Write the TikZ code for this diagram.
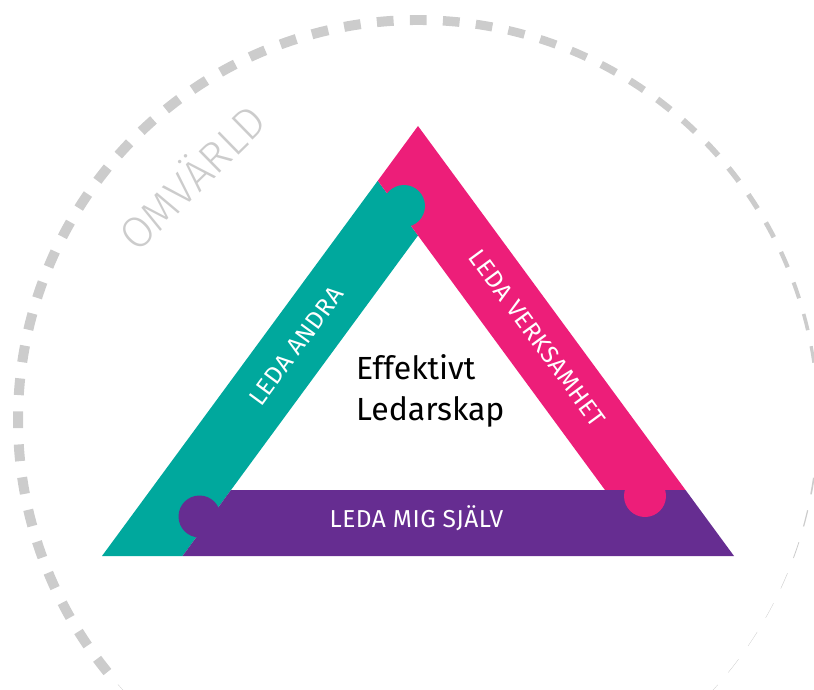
\documentclass[tikz,border=0pt]{standalone}
\usepackage{fontspec}
\setmainfont{Fira Sans}
\newfontfamily\lightfont{Fira Sans Light}
\newfontfamily\bandfont[LetterSpace=2]{Fira Sans}
\usetikzlibrary{calc}
\definecolor{tealband}{RGB}{0,168,157}
\definecolor{pinkband}{RGB}{237,30,121}
\definecolor{purpleband}{RGB}{102,45,145}
\definecolor{omgray}{RGB}{204,204,204}

\begin{document}
\begin{tikzpicture}[x=1pt, y=-1pt]
		\tikzstyle{bandtext} = [text=white, font=\bandfont\fontsize{24.5}{29}\selectfont, inner sep=0pt, text height=16pt, text depth=0pt]
		\tikzstyle{headtext} = [text=black, font=\fontsize{32}{38}\selectfont, inner sep=0pt]
		\tikzstyle{omtext} = [text=omgray, font=\lightfont\fontsize{43.5}{52}\selectfont, inner sep=0pt, text height=30pt, text depth=0pt]
		\tikzstyle{knob} = [radius=21]

		\useasboundingbox (0,0) rectangle (814,690);

		\coordinate (C) at (418,420);
		\foreach \i in {0,...,75} {
			\pgfmathsetmacro\a{-138.6+\i*4.7368}
			\pgfmathsetmacro\t{-\a}
			\pgfmathsetmacro\e{-\a-2.4}
			\pgfmathsetmacro\w{max(0.3,min(10,(\a+30)/12))}
			\draw[omgray, line width=\w pt] (C) ++(\t:400) arc[start angle=\t, end angle=\e, radius=400];
		}

		\coordinate (A) at (418,126);
		\coordinate (BL) at (102,556);
		\coordinate (BR) at (734,556);
		\coordinate (IL) at (231,490);
		\coordinate (IR) at (605,490);
		\coordinate (I) at (418,235.5);
		\coordinate (TL) at (intersection of BL--A and IR--I);
		\coordinate (PBL) at (intersection of BL--BR and I--IL);
		\coordinate (PR) at (intersection of A--BR and IL--IR);

		\fill[tealband] (BL) -- (PBL) -- (IL) -- (I) -- (TL) -- cycle;
		\fill[pinkband] (A) -- (PR) -- (IR) -- (I) -- (TL) -- cycle;
		\fill[purpleband] (BR) -- (PR) -- (IL) -- (PBL) -- cycle;
		\fill[tealband] (404,206) circle[knob];
		\fill[pinkband] (645,496) circle[knob];
		\fill[purpleband] (199.5,516.5) circle[knob];

		\node[bandtext, rotate=53.7] (andra) at (296.5,346.5) {LEDA ANDRA};
		\node[bandtext, rotate=-53.7] (verksamhet) at (537,338) {LEDA VERKSAMHET};
		\node[bandtext] (sjalv) at (416.5,519) {LEDA MIG SJÄLV};
		\node[headtext, anchor=base west] (eff) at (356,379) {Effektivt};
		\node[headtext, anchor=base west] (led) at ([yshift=-41pt]eff.base west) {Ledarskap};
		\node[omtext, rotate=44.4] (omv) at (193,178.5) {OMVÄRLD};
\end{tikzpicture}
\end{document}
